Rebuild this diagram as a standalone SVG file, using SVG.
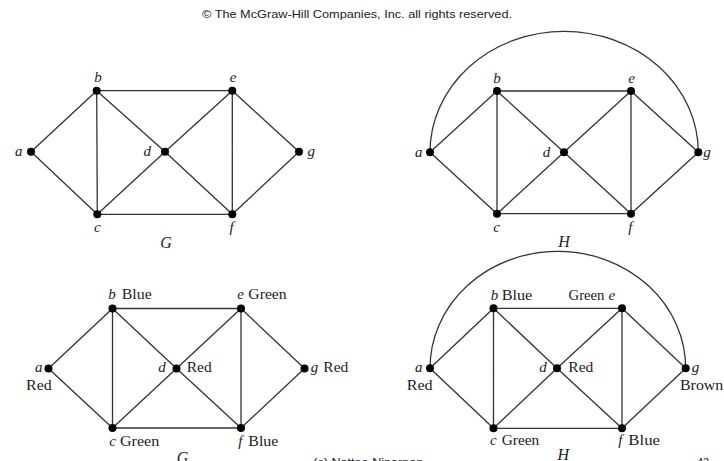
<svg xmlns="http://www.w3.org/2000/svg" width="724" height="461" viewBox="0 0 724 461">
<style>
.e{stroke:#333;stroke-width:1.3;fill:none}
.n{fill:#000}
.l{font-family:"Liberation Serif",serif;font-style:italic;font-size:15px;fill:#222}
.w{font-family:"Liberation Serif",serif;font-size:15px;fill:#222}
.t{font-family:"Liberation Serif",serif;font-style:italic;font-size:16px;fill:#222}
.s{font-family:"Liberation Sans",Arial,sans-serif;font-size:11px;fill:#222}
</style>
<rect width="724" height="461" fill="#fff"/>
<text class="s" x="202" y="18.3" textLength="310" lengthAdjust="spacingAndGlyphs">© The McGraw-Hill Companies, Inc. all rights reserved.</text>

<!-- Graph G (top-left) -->
<g id="connectors-G1">
<path class="e" d="M31,151.7L96.7,90.7M31,151.7L97.3,214.3M96.7,90.7L97.3,214.3M96.7,90.7L232.3,90.7M96.7,90.7L165,151.7M97.3,214.3L165,151.7M97.3,214.3L232.3,214.3M165,151.7L232.3,90.7M165,151.7L232.3,214.3M232.3,90.7L232.3,214.3M232.3,90.7L299,151.7M232.3,214.3L299,151.7"/>
</g>
<g id="G1-a"><circle class="n" cx="31" cy="151.7" r="4"/><text class="l" x="15" y="156">a</text></g>
<g id="G1-b"><circle class="n" cx="96.7" cy="90.7" r="4"/><text class="l" x="98" y="82.3" text-anchor="middle">b</text></g>
<g id="G1-c"><circle class="n" cx="97.3" cy="214.3" r="4"/><text class="l" x="97.3" y="232" text-anchor="middle">c</text></g>
<g id="G1-d"><circle class="n" cx="165" cy="151.7" r="4"/><text class="l" x="143.5" y="156">d</text></g>
<g id="G1-e"><circle class="n" cx="232.3" cy="90.7" r="4"/><text class="l" x="233" y="82.3" text-anchor="middle">e</text></g>
<g id="G1-f"><circle class="n" cx="232.3" cy="214.3" r="4"/><text class="l" x="231.5" y="232" text-anchor="middle">f</text></g>
<g id="G1-g"><circle class="n" cx="299" cy="151.7" r="4"/><text class="l" x="307.5" y="156">g</text></g>
<text class="t" x="166" y="248" text-anchor="middle">G</text>

<!-- Graph H (top-right) -->
<g id="connectors-H1">
<path class="e" d="M430,152.3L497,91M430,152.3L497,213.7M497,91L497,213.7M497,91L631,91M497,91L564,152.3M497,213.7L564,152.3M497,213.7L631,213.7M564,152.3L631,91M564,152.3L631,213.7M631,91L631,213.7M631,91L698.3,152.3M631,213.7L698.3,152.3"/>
<path class="e" d="M430,152.3A134.15,121 0 0 1 698.3,152.3"/>
</g>
<g id="H1-a"><circle class="n" cx="430" cy="152.3" r="4"/><text class="l" x="415" y="156.7">a</text></g>
<g id="H1-b"><circle class="n" cx="497" cy="91" r="4"/><text class="l" x="497" y="83.3" text-anchor="middle">b</text></g>
<g id="H1-c"><circle class="n" cx="497" cy="213.7" r="4"/><text class="l" x="496.7" y="231.7" text-anchor="middle">c</text></g>
<g id="H1-d"><circle class="n" cx="564" cy="152.3" r="4"/><text class="l" x="542.7" y="156.7">d</text></g>
<g id="H1-e"><circle class="n" cx="631" cy="91" r="4"/><text class="l" x="631.7" y="83.3" text-anchor="middle">e</text></g>
<g id="H1-f"><circle class="n" cx="631" cy="213.7" r="4"/><text class="l" x="630.4" y="231.7" text-anchor="middle">f</text></g>
<g id="H1-g"><circle class="n" cx="698.3" cy="152.3" r="4"/><text class="l" x="703.3" y="156.7">g</text></g>
<text class="t" x="564" y="247" text-anchor="middle">H</text>

<!-- Graph G coloured (bottom-left) -->
<g id="connectors-G2">
<path class="e" d="M48.5,368.5L112.5,308.5M48.5,368.5L112.5,428M112.5,308.5L112.5,428M112.5,308.5L241,308.5M112.5,308.5L176.5,368.5M112.5,428L176.5,368.5M112.5,428L241,428M176.5,368.5L241,308.5M176.5,368.5L241,428M241,308.5L241,428M241,308.5L304.5,368.5M241,428L304.5,368.5"/>
</g>
<g id="G2-a"><circle class="n" cx="48.5" cy="368.5" r="4"/><text class="l" x="35" y="371.7">a</text><text class="w" x="26" y="390" textLength="25.7" lengthAdjust="spacingAndGlyphs">Red</text></g>
<g id="G2-b"><circle class="n" cx="112.5" cy="308.5" r="4"/><text class="l" x="108.3" y="299.3">b</text><text class="w" x="121.7" y="299.3" textLength="30" lengthAdjust="spacingAndGlyphs">Blue</text></g>
<g id="G2-c"><circle class="n" cx="112.5" cy="428" r="4"/><text class="l" x="109.3" y="445.7">c</text><text class="w" x="120" y="445.7" textLength="39.3" lengthAdjust="spacingAndGlyphs">Green</text></g>
<g id="G2-d"><circle class="n" cx="176.5" cy="368.5" r="4"/><text class="l" x="158.3" y="371.7">d</text><text class="w" x="186.7" y="371.7" textLength="25" lengthAdjust="spacingAndGlyphs">Red</text></g>
<g id="G2-e"><circle class="n" cx="241" cy="308.5" r="4"/><text class="l" x="237.3" y="299.3">e</text><text class="w" x="248.3" y="299.3" textLength="38.4" lengthAdjust="spacingAndGlyphs">Green</text></g>
<g id="G2-f"><circle class="n" cx="241" cy="428" r="4"/><text class="l" x="238.3" y="445.7">f</text><text class="w" x="248.3" y="445.7" textLength="30" lengthAdjust="spacingAndGlyphs">Blue</text></g>
<g id="G2-g"><circle class="n" cx="304.5" cy="368.5" r="4"/><text class="l" x="310.7" y="371.7">g</text><text class="w" x="323.3" y="371.7" textLength="25" lengthAdjust="spacingAndGlyphs">Red</text></g>
<text class="t" x="182.5" y="462.5" text-anchor="middle">G</text>

<!-- Graph H coloured (bottom-right) -->
<g id="connectors-H2">
<path class="e" d="M430,368.3L493.5,308.3M430,368.3L493.5,428.3M493.5,308.3L493.5,428.3M493.5,308.3L622,308.3M493.5,308.3L557,368.3M493.5,428.3L557,368.3M493.5,428.3L622,428.3M557,368.3L622,308.3M557,368.3L622,428.3M622,308.3L622,428.3M622,308.3L685.7,368.3M622,428.3L685.7,368.3"/>
<path class="e" d="M430,368.3A127.85,117 0 0 1 685.7,368.3"/>
</g>
<g id="H2-a"><circle class="n" cx="430" cy="368.3" r="4"/><text class="l" x="415" y="371.7">a</text><text class="w" x="406.7" y="390" textLength="26" lengthAdjust="spacingAndGlyphs">Red</text></g>
<g id="H2-b"><circle class="n" cx="493.5" cy="308.3" r="4"/><text class="l" x="490.7" y="300">b</text><text class="w" x="501.7" y="300" textLength="30.6" lengthAdjust="spacingAndGlyphs">Blue</text></g>
<g id="H2-c"><circle class="n" cx="493.5" cy="428.3" r="4"/><text class="l" x="490" y="444.5">c</text><text class="w" x="501.7" y="444.5" textLength="37.6" lengthAdjust="spacingAndGlyphs">Green</text></g>
<g id="H2-d"><circle class="n" cx="557" cy="368.3" r="4"/><text class="l" x="539.3" y="371.7">d</text><text class="w" x="568.3" y="371.7" textLength="25" lengthAdjust="spacingAndGlyphs">Red</text></g>
<g id="H2-e"><circle class="n" cx="622" cy="308.3" r="4"/><text class="w" x="568.5" y="300" textLength="36" lengthAdjust="spacingAndGlyphs">Green</text><text class="l" x="608.5" y="300">e</text></g>
<g id="H2-f"><circle class="n" cx="622" cy="428.3" r="4"/><text class="l" x="618.3" y="444.5">f</text><text class="w" x="628.3" y="444.5" textLength="31.7" lengthAdjust="spacingAndGlyphs">Blue</text></g>
<g id="H2-g"><circle class="n" cx="685.7" cy="368.3" r="4"/><text class="l" x="691.7" y="371.7">g</text><text class="w" x="680" y="390" textLength="43.3" lengthAdjust="spacingAndGlyphs">Brown</text></g>
<text class="t" x="563.3" y="460" text-anchor="middle">H</text>

<text class="s" x="313.3" y="465.5" font-size="12" textLength="110" lengthAdjust="spacingAndGlyphs">(c) Nattee Niparnon</text>
<text class="s" x="697" y="465.5" font-size="12">43</text>
</svg>
